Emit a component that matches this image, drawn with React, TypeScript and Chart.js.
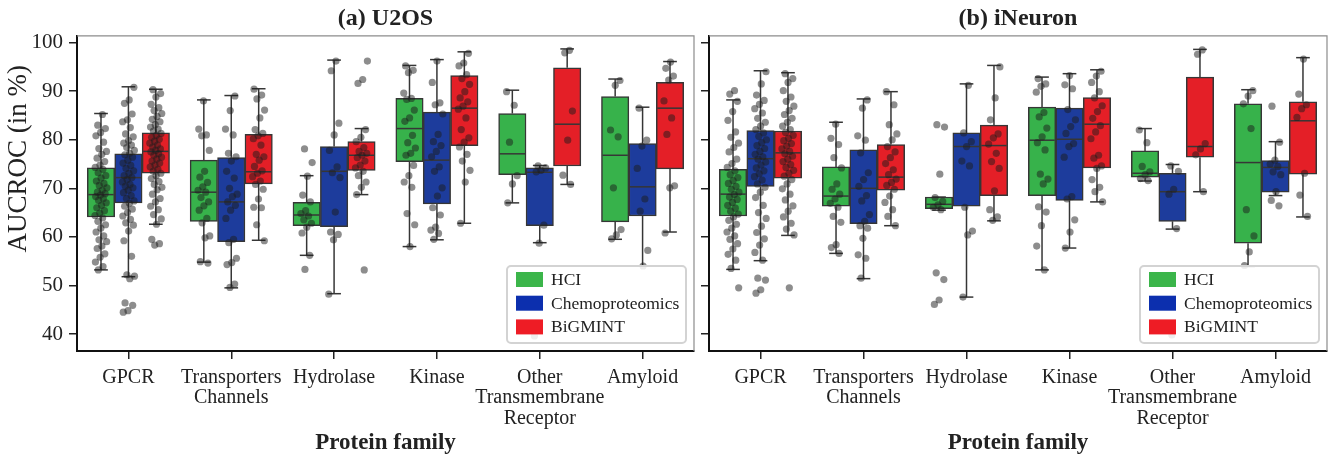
import React, { useEffect, useRef } from 'react';
import { Chart, registerables } from 'chart.js';

Chart.register(...registerables);

const FONT = "'Liberation Serif', 'Times New Roman', serif";

// ---------- categories, series, ticks ----------
const FAMILIES = [
  ['GPCR'],
  ['Transporters', 'Channels'],
  ['Hydrolase'],
  ['Kinase'],
  ['Other', 'Transmembrane', 'Receptor'],
  ['Amyloid'],
];
const SERIES = ['HCI', 'Chemoproteomics', 'BiGMINT'];
const Y_TICKS = [40, 50, 60, 70, 80, 90, 100];
const X_TITLE = 'Protein family';
const Y_TITLE = 'AUCROC (in %)';
const TITLE_U2OS = '(a) U2OS';
const TITLE_INEURON = '(b) iNeuron';

// ---------- box statistics: [low whisker, Q1, median, Q3, high whisker] ----------
const U2OS_HCI_BOX = [
  [53.2, 64.1, 68.7, 74.2, 85.4],
  [54.8, 63.2, 69.2, 75.8, 88.2],
  [56.2, 62.3, 64.5, 67.1, 72.6],
  [58.0, 75.5, 82.3, 88.5, 95.3],
  [67.0, 72.8, 77.1, 85.4, 90.2],
  [59.5, 63.1, 76.8, 88.9, 92.5],
];
const U2OS_CHEMO_BOX = [
  [51.8, 67.0, 72.2, 77.1, 90.9],
  [49.5, 59.0, 67.2, 76.3, 89.1],
  [48.3, 62.1, 73.5, 78.6, 96.4],
  [59.4, 66.8, 75.8, 85.7, 96.5],
  [58.8, 62.3, 73.3, 74.2, 74.7],
  [54.0, 64.3, 70.3, 79.2, 86.7],
];
const U2OS_BIG_BOX = [
  [62.6, 73.1, 77.6, 81.4, 90.4],
  [59.3, 70.9, 73.4, 81.1, 90.5],
  [68.7, 73.7, 76.8, 79.6, 82.3],
  [62.8, 78.8, 86.5, 93.2, 98.1],
  [70.8, 74.6, 83.2, 94.8, 98.7],
  [61.0, 74.0, 86.5, 91.8, 96.1],
];
const INEURON_HCI_BOX = [
  [53.3, 64.3, 68.8, 73.9, 88.2],
  [56.6, 66.3, 68.4, 74.4, 83.6],
  [65.5, 65.8, 66.7, 68.2, 68.2],
  [53.2, 68.5, 79.9, 86.7, 92.9],
  [71.5, 72.3, 73.1, 77.7, 82.3],
  [53.9, 58.7, 75.3, 87.4, 90.3],
];
const INEURON_CHEMO_BOX = [
  [55.1, 70.4, 76.1, 81.9, 94.2],
  [51.4, 62.7, 70.0, 77.9, 88.4],
  [47.6, 66.3, 78.6, 81.4, 91.5],
  [57.7, 67.5, 80.1, 86.5, 93.6],
  [61.6, 63.2, 69.3, 73.1, 74.9],
  [68.5, 69.2, 74.3, 75.7, 79.6],
];
const INEURON_BIG_BOX = [
  [60.3, 72.1, 77.3, 81.8, 93.8],
  [62.3, 69.6, 72.3, 79.0, 89.9],
  [63.3, 68.5, 78.8, 83.0, 95.3],
  [67.2, 74.2, 83.2, 88.7, 94.4],
  [69.3, 76.4, 78.6, 92.9, 98.6],
  [64.1, 72.9, 83.9, 87.8, 96.9],
];

// ---------- individual observations (per family) ----------
const U2OS_HCI_POINTS = [
  [85.2, 83, 82.3, 81.5, 80.8, 79.5, 78.2, 77.6, 77, 76.2, 75.5, 74.8, 74.3, 73.9, 73.2, 72.6, 72.1, 71.5, 71, 70.6, 70.1, 69.6, 69.2, 68.9, 68.6, 68.3, 67.9, 67.5, 67, 66.5, 66, 65.4, 64.9, 64.4, 63.9, 63.2, 62.5, 61.8, 61, 60.2, 59.4, 59, 58.1, 57.6, 56.5, 55.8, 54.8, 53.9, 53.2],
  [88, 82.2, 81, 80.8, 77.8, 73.5, 72.3, 71.2, 70.3, 69.6, 69.2, 68.1, 67.2, 66.4, 65.5, 63.8, 62.9, 60.2, 59.8, 54.9, 54.6],
  [78.1, 75.3, 72.5, 68.6, 67.2, 65.4, 64.8, 64.3, 63.5, 62.8, 62.0, 60.8, 56.2, 53.3],
  [95.2, 94.3, 93.8, 89.6, 88.5, 88.3, 86.1, 84.5, 83.8, 80.9, 79.4, 78.3, 77.2, 76.8, 74.7, 72.6, 71.3, 70.2, 64.8, 62.5, 58.0],
  [89.9, 87.1, 79.5, 72.6, 70.9, 67.0],
  [92.2, 91.2, 82.0, 80.6, 70.1, 61.5, 60.4, 59.6],
];
const U2OS_CHEMO_POINTS = [
  [90.8, 88.2, 87.5, 85.3, 84.1, 83.7, 82.5, 81.2, 80.6, 79.8, 79.3, 78.9, 78.4, 77.8, 77.2, 76.9, 76.4, 75.8, 75.2, 74.7, 74.1, 73.6, 73.1, 72.6, 72.2, 71.8, 71.3, 70.8, 70.4, 70.1, 69.6, 69.1, 68.5, 67.9, 67.4, 66.9, 66.3, 65.7, 65.0, 64.3, 63.6, 62.9, 62.4, 61.2, 59.2, 56.0, 52.2, 51.9, 51.4, 46.4, 45.9, 44.8, 44.5],
  [89, 86, 82.2, 81, 77.2, 76.5, 75.6, 73.5, 72.1, 70, 68.8, 68.3, 67.2, 66.5, 65.5, 63.8, 59.5, 58.8, 55.6, 54.7, 54.3, 50.3, 49.6],
  [96.2, 94.2, 83.4, 81.0, 77.8, 74.4, 73.2, 72.2, 65.1, 61.0, 60.5, 59.4, 48.2],
  [96.2, 91.8, 87.6, 87.2, 85.3, 81.1, 79.6, 78.8, 77.6, 76.5, 74.4, 73.5, 70.1, 68.4, 66.0, 64.5, 62.0, 61.4, 60.7, 59.5],
  [74.6, 74.2, 73.7, 73.4, 62.4, 58.7, 39.6],
  [86.5, 79.9, 78.7, 74.1, 67.8, 65.3, 57.2, 54.0],
];
const U2OS_BIG_POINTS = [
  [90.3, 89.5, 88.8, 87.3, 86.6, 86.0, 85.4, 84.8, 84.2, 83.7, 83.1, 82.6, 82.2, 81.8, 81.3, 80.9, 80.5, 80.1, 79.7, 79.3, 78.9, 78.5, 78.1, 77.8, 77.5, 77.1, 76.8, 76.4, 76.0, 75.6, 75.2, 74.8, 74.4, 73.9, 73.5, 73.1, 72.6, 72.0, 71.4, 70.8, 70.2, 69.7, 68.8, 67.9, 67.2, 66.3, 65.6, 64.6, 63.7, 62.6, 59.5, 58.6, 58.3],
  [90.4, 89.2, 88.4, 86.1, 84.5, 82.1, 81.3, 80.8, 80.2, 78.9, 77.0, 76.5, 75.8, 74.5, 73.6, 73.1, 72.4, 71.5, 70.8, 69.8, 67.8, 66.1, 66.0, 62.5, 59.2],
  [96.2, 92.4, 91.6, 82.1, 80.5, 79.6, 78.4, 77.6, 77.2, 76.8, 76.3, 75.6, 74.8, 74.2, 73.5, 72.6, 71.3, 70.2, 68.7, 53.2],
  [97.8, 95.8, 95.2, 93.4, 92.6, 91.4, 89.9, 88.6, 87.8, 86.9, 86.3, 84.5, 82.1, 80.4, 79.5, 78.5, 77.0, 75.6, 73.7, 71.3, 62.8],
  [98.4, 97.9, 85.9, 79.9, 72.7, 70.8],
  [96.0, 94.7, 93.1, 92.3, 88.0, 84.5, 81.1, 70.5, 70.1, 60.8],
];
const INEURON_HCI_POINTS = [
  [90.1, 89.4, 87.9, 85.8, 84.0, 81.6, 80.5, 79.3, 78.4, 77.5, 76.0, 75.1, 74.3, 73.6, 72.8, 72.2, 71.6, 71.0, 70.4, 69.8, 69.2, 68.7, 68.2, 67.7, 67.1, 66.5, 65.9, 65.3, 64.7, 64.1, 63.4, 62.6, 61.8, 61.0, 60.2, 59.5, 58.6, 57.5, 56.4, 55.2, 53.5, 49.5],
  [83.2, 80.3, 79.0, 76.3, 74.2, 70.9, 69.8, 68.8, 67.8, 66.9, 66.1, 64.2, 63.0, 58.4, 57.8, 56.6],
  [83.1, 82.6, 72.9, 68.1, 67.3, 66.6, 66.1, 65.6, 52.6, 51.2, 47.0, 46.1],
  [92.6, 91.5, 91.0, 89.8, 85.6, 84.7, 82.4, 80.6, 79.4, 77.9, 72.9, 71.9, 70.9, 66.2, 65.1, 62.3, 58.1, 53.2],
  [82.0, 79.4, 74.5, 73.4, 72.8, 72.0, 71.6],
  [90.1, 89.0, 87.4, 82.3, 65.6, 60.2, 56.9, 54.1],
];
const INEURON_CHEMO_POINTS = [
  [94.0, 91.5, 89.2, 88.1, 87.3, 86.4, 85.5, 84.4, 83.6, 82.8, 82.1, 81.4, 80.7, 80.0, 79.4, 78.8, 78.2, 77.6, 77.0, 76.5, 76.0, 75.4, 74.8, 74.2, 73.6, 73.0, 72.4, 71.7, 70.9, 70.2, 69.2, 68.1, 66.5, 65.0, 63.8, 62.2, 60.9, 59.6, 58.3, 56.8, 55.2, 51.5, 51.1, 49.1, 48.4],
  [88.2, 86.5, 80.8, 79.9, 77.3, 73.2, 71.8, 70.4, 68.5, 67.4, 64.6, 63.2, 62.3, 61.8, 59.7, 56.3, 55.6, 51.5],
  [91.2, 81.4, 79.6, 78.6, 75.6, 74.6, 66.1, 61.2, 60.4, 47.6],
  [93.2, 91.3, 90.5, 86.2, 84.1, 82.7, 81.3, 79.2, 78.6, 76.4, 68.3, 67.8, 63.5, 61.0, 57.7],
  [74.6, 73.5, 69.8, 68.8, 61.7, 39.8],
  [86.9, 79.5, 75.8, 75.0, 74.5, 73.4, 72.8, 69.3, 67.5, 66.4],
];
const INEURON_BIG_POINTS = [
  [93.6, 92.6, 91.8, 90.1, 88.8, 87.9, 86.9, 86.0, 85.2, 84.4, 83.6, 82.8, 82.1, 81.5, 80.9, 80.3, 79.8, 79.2, 78.7, 78.1, 77.6, 77.1, 76.6, 76.0, 75.5, 74.9, 74.3, 73.7, 73.1, 72.5, 71.8, 70.9, 69.9, 68.8, 67.6, 66.4, 65.3, 64.1, 62.8, 61.6, 60.4, 49.5],
  [89.9, 87.2, 83.1, 81.2, 80.0, 78.6, 77.5, 76.3, 75.1, 73.8, 72.8, 71.9, 71.2, 70.6, 69.8, 68.4, 67.1, 65.6, 64.2, 62.3],
  [95.0, 88.6, 84.1, 81.2, 80.4, 79.1, 77.2, 75.5, 74.1, 69.5, 65.6, 64.1, 63.4],
  [94.1, 93.1, 91.8, 89.9, 88.6, 87.0, 85.8, 84.4, 82.9, 81.6, 80.2, 76.8, 76.2, 74.6, 74.1, 71.8, 70.2, 69.3, 67.2],
  [98.5, 97.6, 79.2, 78.1, 76.9, 69.3],
  [96.6, 89.4, 87.2, 86.4, 84.6, 73.1, 68.6, 64.2],
];

// ---------- styles ----------
const BOX_COLORS = ['#37b24b', '#1d3c9c', '#e41f27'];
const LEGEND_COLORS = ['#3bb54a', '#0c2fae', '#ee1c25'];
const EDGE = '#363636';
const TEXT = '#222222';
const GROUP_FRACTION = 0.8;
const SERIES_STEP = GROUP_FRACTION / SERIES.length;
const BOX_PX = 27.4;

// deterministic, low-discrepancy horizontal spread (strip-plot style)
function jitter(i: number) {
  const g = (i * 0.6180339887) % 1;
  return (g - 0.5) * 0.12;
}

function seriesX(f: number, s: number) {
  return f + (s - 1) * SERIES_STEP;
}

function buildPoints(pointsBySeries: number[][][]) {
  const pts: { x: number; y: number }[] = [];
  pointsBySeries.forEach((series, s) =>
    series.forEach((vals, f) =>
      vals.forEach((v, i) => {
        pts.push({ x: seriesX(f, s) + jitter(i + 1 + f * 3 + s * 7), y: v });
      })
    )
  );
  return pts;
}

const boxDecorPlugin = {
  id: 'boxDecor',
  afterDatasetDraw(chart: any, args: any) {
    const meta = args.meta;
    if (meta.type !== 'bar') return;
    const ds: any = chart.data.datasets[args.index];
    const stats: number[][] = ds.boxStats;
    if (!stats) return;
    const yS = chart.scales.y;
    const ctx = chart.ctx;
    ctx.save();
    ctx.strokeStyle = EDGE;
    ctx.lineWidth = 1.5;
    const line = (x1: number, y1: number, x2: number, y2: number) => {
      ctx.beginPath();
      ctx.moveTo(x1, y1);
      ctx.lineTo(x2, y2);
      ctx.stroke();
    };
    meta.data.forEach((bar: any, i: number) => {
      const [lo, q1, med, q3, hi] = stats[i];
      const { x, width } = bar.getProps(['x', 'width'], true);
      const half = width / 2;
      const pMed = yS.getPixelForValue(med);
      line(x - half + 1, pMed, x + half - 1, pMed);
      const pHi = yS.getPixelForValue(hi);
      const pLo = yS.getPixelForValue(lo);
      const pQ3 = yS.getPixelForValue(q3);
      const pQ1 = yS.getPixelForValue(q1);
      if (pHi < pQ3 - 0.5) line(x, pQ3, x, pHi);
      if (pLo > pQ1 + 0.5) line(x, pQ1, x, pLo);
      line(x - half / 2, pHi, x + half / 2, pHi);
      line(x - half / 2, pLo, x + half / 2, pLo);
    });
    ctx.restore();
  },
};

const framePlugin = {
  id: 'frame',
  afterDraw(chart: any) {
    const { ctx, chartArea: a } = chart;
    ctx.save();
    ctx.strokeStyle = '#8c8c8c';
    ctx.lineWidth = 1.2;
    ctx.beginPath();
    ctx.moveTo(a.left, a.top);
    ctx.lineTo(a.right, a.top);
    ctx.lineTo(a.right, a.bottom);
    ctx.stroke();
    ctx.restore();
  },
};

const legendPlugin = {
  id: 'boxLegend',
  afterDraw(chart: any) {
    const { ctx, chartArea: a } = chart;
    const w = 179;
    const h = 77;
    const x0 = a.right - 8 - w;
    const y0 = a.bottom - 8 - h;
    ctx.save();
    ctx.beginPath();
    if (ctx.roundRect) ctx.roundRect(x0, y0, w, h, 4);
    else ctx.rect(x0, y0, w, h);
    ctx.fillStyle = 'rgba(255,255,255,0.85)';
    ctx.fill();
    ctx.strokeStyle = '#d3d3d3';
    ctx.lineWidth = 2;
    ctx.stroke();
    ctx.font = `17.5px ${FONT}`;
    ctx.textBaseline = 'middle';
    ctx.textAlign = 'left';
    SERIES.forEach((name, k) => {
      const cy = y0 + 13.5 + k * 23.7;
      ctx.fillStyle = LEGEND_COLORS[k];
      ctx.fillRect(x0 + 9, cy - 7.5, 27, 15);
      ctx.fillStyle = TEXT;
      ctx.fillText(name, x0 + 44, cy + 1);
    });
    ctx.restore();
  },
};

const yTitlePlugin = {
  id: 'yTitle',
  afterDraw(chart: any) {
    const ctx = chart.ctx;
    const a = chart.chartArea;
    ctx.save();
    ctx.translate(19, a.top + (a.bottom - a.top) * 0.39);
    ctx.rotate(-Math.PI / 2);
    ctx.font = `27px ${FONT}`;
    ctx.fillStyle = TEXT;
    ctx.textAlign = 'center';
    ctx.textBaseline = 'middle';
    ctx.fillText(Y_TITLE, 0, 0);
    ctx.restore();
  },
};

type PanelSpec = {
  title: string;
  boxes: number[][][];
  points: number[][][];
  showYLabels: boolean;
  yAxisWidth: number;
};

function makeConfig(p: PanelSpec): any {
  return {
    type: 'bar',
    data: {
      labels: FAMILIES,
      datasets: [
        ...p.boxes.map((b, s) => ({
          type: 'bar',
          label: SERIES[s],
          data: b.map((t, f) => ({ x: seriesX(f, s), y: [t[1], t[3]] })),
          boxStats: b,
          backgroundColor: BOX_COLORS[s],
          borderColor: EDGE,
          borderWidth: 1.5,
          borderSkipped: false,
          grouped: false,
          barThickness: BOX_PX,
          xAxisID: 'xs',
          yAxisID: 'y',
          order: 1,
        })),
        {
          type: 'scatter',
          label: 'points',
          data: buildPoints(p.points),
          xAxisID: 'xs',
          yAxisID: 'y',
          order: 0,
          pointRadius: 3.6,
          pointBackgroundColor: 'rgba(28,28,28,0.5)',
          pointBorderWidth: 0,
          pointBorderColor: 'rgba(0,0,0,0)',
        },
      ],
    },
    options: {
      responsive: false,
      animation: false,
      events: [],
      layout: { padding: { left: 0, right: 6, top: 0, bottom: 0 } },
      plugins: {
        legend: { display: false },
        tooltip: { enabled: false },
        title: {
          display: true,
          text: p.title,
          fullSize: false,
          color: TEXT,
          font: { family: FONT, size: 24, weight: 'bold', lineHeight: 1.2 },
          padding: { top: 4, bottom: 3 },
        },
      },
      scales: {
        x: {
          type: 'category',
          labels: FAMILIES,
          offset: true,
          grid: { offset: false, drawOnChartArea: false, drawTicks: true, tickLength: 8, color: '#222', lineWidth: 1.5 },
          border: { display: true, color: '#111', width: 2 },
          ticks: {
            color: TEXT,
            font: { family: FONT, size: 20, lineHeight: 1.03 },
            padding: 8,
            maxRotation: 0,
            autoSkip: false,
          },
          title: {
            display: true,
            text: X_TITLE,
            color: TEXT,
            font: { family: FONT, size: 23, weight: 'bold', lineHeight: 1.2 },
            padding: { top: 0, bottom: 4 },
          },
          afterFit: (s: any) => {
            s.height = 110;
          },
        },
        xs: {
          type: 'linear',
          display: false,
          offset: false,
          min: -0.5,
          max: 5.5,
          grid: { offset: false },
        },
        y: {
          type: 'linear',
          min: 36.5,
          max: 101.4,
          afterBuildTicks: (s: any) => {
            s.ticks = Y_TICKS.map((v) => ({ value: v }));
          },
          grid: { drawOnChartArea: false, drawTicks: true, tickLength: 8, color: '#222', lineWidth: 1.5 },
          border: { display: true, color: '#111', width: 2 },
          ticks: {
            color: TEXT,
            font: { family: FONT, size: 21 },
            padding: 6,
            callback: p.showYLabels ? (v: any) => String(v) : () => '',
          },
          afterFit: (s: any) => {
            s.width = p.yAxisWidth;
          },
        },
      },
    },
    plugins: p.showYLabels
      ? [boxDecorPlugin, framePlugin, legendPlugin, yTitlePlugin]
      : [boxDecorPlugin, framePlugin, legendPlugin],
  };
}

function Panel({ spec, left, width }: { spec: PanelSpec; left: number; width: number }) {
  const ref = useRef<HTMLCanvasElement | null>(null);
  useEffect(() => {
    if (!ref.current) return;
    const chart = new Chart(ref.current, makeConfig(spec));
    return () => chart.destroy();
  }, [spec]);
  return (
    <canvas
      ref={ref}
      width={width}
      height={461}
      style={{ position: 'absolute', left, top: 0, width, height: 461 }}
    />
  );
}

const U2OS_SPEC: PanelSpec = {
  title: TITLE_U2OS,
  boxes: [U2OS_HCI_BOX, U2OS_CHEMO_BOX, U2OS_BIG_BOX],
  points: [U2OS_HCI_POINTS, U2OS_CHEMO_POINTS, U2OS_BIG_POINTS],
  showYLabels: true,
  yAxisWidth: 77,
};
const INEURON_SPEC: PanelSpec = {
  title: TITLE_INEURON,
  boxes: [INEURON_HCI_BOX, INEURON_CHEMO_BOX, INEURON_BIG_BOX],
  points: [INEURON_HCI_POINTS, INEURON_CHEMO_POINTS, INEURON_BIG_POINTS],
  showYLabels: false,
  yAxisWidth: 9,
};

export default function App() {
  return (
    <div style={{ position: 'fixed', left: 0, top: 0, width: 1333, height: 461, background: '#fff' }}>
      <Panel spec={U2OS_SPEC} left={0} width={700} />
      <Panel spec={INEURON_SPEC} left={700} width={633} />
    </div>
  );
}
